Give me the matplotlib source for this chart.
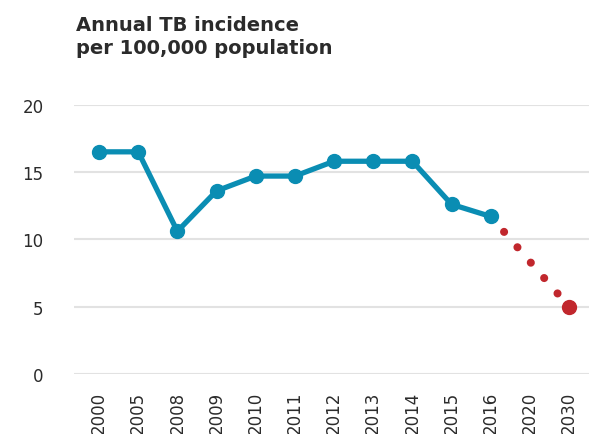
import numpy as np
import matplotlib
matplotlib.use("Agg")
import matplotlib.pyplot as plt

# data
years = ["2000", "2005", "2008", "2009", "2010", "2011", "2012",
         "2013", "2014", "2015", "2016", "2020", "2030"]
actual = [16.5, 16.5, 10.6, 13.6, 14.7, 14.7, 15.8, 15.8, 15.8, 12.6, 11.7]
target_years = ["2016", "2030"]
target = [11.7, 5.0]
yticks = [0, 5, 10, 15, 20]

blue = "#0a8db3"
red = "#c1272d"
text_col = "#2b2b2b"

plt.rcParams['font.family'] = ['DejaVu Sans']

fig = plt.figure(figsize=(5.89, 4.35), dpi=100)
ax = fig.add_axes([74/589, 60/435, 1 - 74/589, (375 - 105.7)/435])

x = np.arange(len(years))
xa = x[:len(actual)]
xt = [years.index(y) for y in target_years]

# projection to 2030, dotted red
ax.plot(xt, target, color=red, lw=5.8, dash_capstyle="round",
        linestyle=(0, (0.01, 2.52)), clip_on=False, zorder=2)
ax.plot(xt[-1:], target[-1:], "o", color=red, ms=10, clip_on=False, zorder=3)

# observed incidence
ax.plot(xa, actual, color=blue, lw=3.8, marker="o", ms=10,
        solid_joinstyle="round", clip_on=False, zorder=4)

ax.set_xlim(-0.64, 12.51)
ax.set_ylim(0, 20)
ax.set_yticks(yticks)
ax.set_xticks(x)
ax.set_xticklabels(years, rotation=90, va="top", ha="center")
ax.tick_params(axis="both", length=0, labelsize=12, colors=text_col)
ax.tick_params(axis="y", pad=22)
ax.tick_params(axis="x", pad=12)
for lab in ax.get_yticklabels():
    lab.set_ha("right")

ax.grid(axis="y", color="#e2e2e2", lw=1.5)
ax.set_axisbelow(True)
for s in ax.spines.values():
    s.set_visible(False)

fig.text(76/589, 1 - 16/435, "Annual TB incidence\nper 100,000 population",
         fontsize=14, fontweight="bold", color=text_col, va="top", ha="left",
         linespacing=1.3)

fig.savefig("out.png", dpi=100)
